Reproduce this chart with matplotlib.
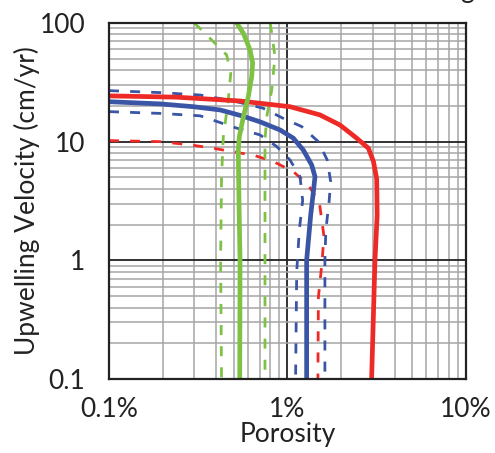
import matplotlib.pyplot as plt
from matplotlib.ticker import LogLocator, FixedLocator, NullFormatter

plt.rcParams['font.family'] = ['Lato', 'DejaVu Sans']

RED = '#ED2A26'
BLUE = '#3A55A5'
GREEN = '#7DC242'

# porosity in percent, upwelling velocity in cm/yr
red_x = [0.1, 0.239, 0.542, 1.033, 1.52, 1.97, 2.44, 2.84, 3.03, 3.16, 3.18, 3.09, 2.96]
red_y = [24.3, 23.7, 22.0, 19.7, 16.8, 13.8, 10.7, 8.8, 6.8, 4.85, 2.41, 1.0, 0.1]

red_dash_x = [0.1, 0.193, 0.284, 0.384, 0.497, 0.643, 0.833, 1.078, 1.31, 1.51, 1.60, 1.56, 1.49, 1.48]
red_dash_y = [10.2, 10.0, 9.4, 8.8, 8.2, 7.7, 6.8, 5.59, 4.3, 3.03, 1.6, 0.95, 0.49, 0.1]

blue_x = [0.1, 0.193, 0.297, 0.419, 0.554, 0.701, 0.908, 1.078, 1.226, 1.366, 1.426, 1.395, 1.349, 1.28, 1.28]
blue_y = [21.7, 20.8, 19.7, 18.5, 16.5, 14.7, 12.55, 10.7, 8.5, 6.36, 5.07, 3.74, 2.41, 1.0, 0.1]

blue_hi_x = [0.1, 0.193, 0.324, 0.5, 0.732, 0.947, 1.2, 1.488, 1.67, 1.745, 1.71, 1.64, 1.62, 1.62]
blue_hi_y = [26.9, 25.9, 24.7, 22.0, 19.1, 15.7, 13.4, 10.0, 7.0, 4.6, 3.12, 1.8, 1.0, 0.1]

blue_lo_x = [0.1, 0.193, 0.324, 0.519, 0.701, 0.87, 1.033, 1.175, 1.216, 1.165, 1.126, 1.11]
blue_lo_y = [17.9, 17.3, 16.5, 13.0, 11.4, 9.1, 7.0, 5.07, 3.2, 1.8, 0.8, 0.1]

green_x = [0.519, 0.566, 0.617, 0.638, 0.63, 0.603, 0.566, 0.537, 0.53, 0.535, 0.542, 0.54]
green_y = [100, 81.9, 59.2, 45.8, 35.3, 23.9, 16.2, 11.0, 8.5, 3.0, 1.0, 0.1]

green_lo_x = [0.30, 0.316, 0.376, 0.456, 0.481, 0.466, 0.437, 0.427, 0.422, 0.427]
green_lo_y = [100, 93.1, 71.9, 53.8, 37.7, 22.4, 11.0, 5.0, 1.0, 0.1]

green_hi_x = [0.80, 0.816, 0.851, 0.816, 0.765, 0.748, 0.748]
green_hi_y = [100, 81.9, 52, 27.3, 16.2, 10.3, 0.1]

x_ticks = [0.1, 1, 10]
x_labels = ['0.1%', '1%', '10%']
y_ticks = [0.1, 1, 10, 100]
y_labels = ['0.1', '1', '10', '100']

fig = plt.figure(figsize=(4.95, 4.53), dpi=100)
ax = fig.add_axes([0.2202, 0.1634, 0.7212, 0.7859])
ax.set_xscale('log')
ax.set_yscale('log')
ax.set_xlim(0.1, 10)
ax.set_ylim(0.1, 100)

# grid: grey minor lines, black decade lines
ax.xaxis.set_minor_locator(LogLocator(base=10, subs=range(2, 10)))
ax.yaxis.set_minor_locator(LogLocator(base=10, subs=range(2, 10)))
ax.xaxis.set_minor_formatter(NullFormatter())
ax.yaxis.set_minor_formatter(NullFormatter())
ax.grid(which='minor', color='#A6A6A6', lw=1.1, zorder=0)
ax.grid(which='major', color='#222222', lw=1.3, zorder=0)
ax.set_axisbelow(True)

dash = dict(lw=2.0, dashes=(3.6, 4.0), dash_joinstyle='round')
ax.plot(red_dash_x, red_dash_y, color=RED, **dash)
ax.plot(blue_hi_x, blue_hi_y, color=BLUE, **dash)
ax.plot(blue_lo_x, blue_lo_y, color=BLUE, **dash)
ax.plot(green_lo_x, green_lo_y, color=GREEN, **dash)
ax.plot(green_hi_x, green_hi_y, color=GREEN, **dash)

solid = dict(lw=3.4, solid_joinstyle='round')
ax.plot(blue_x, blue_y, color=BLUE, **solid)
ax.plot(red_x, red_y, color=RED, **solid)
ax.plot(green_x, green_y, color=GREEN, **solid)

ax.xaxis.set_major_locator(FixedLocator(x_ticks))
ax.set_xticklabels(x_labels)
ax.yaxis.set_major_locator(FixedLocator(y_ticks))
ax.set_yticklabels(y_labels)
ax.tick_params(which='both', length=0, labelsize=19, colors='#222222')
ax.tick_params(axis='x', pad=13)
ax.tick_params(axis='y', pad=17)

for s in ax.spines.values():
    s.set_color('#222222')
    s.set_linewidth(1.6)

ax.set_xlabel('Porosity', fontsize=19, color='#222222', labelpad=0)
ax.set_ylabel('Upwelling Velocity (cm/yr)', fontsize=19, color='#222222', labelpad=0)

# cut-off heading above the plot
fig.text(0.944, 1.004, 'g', fontsize=19, color='#222222', ha='center', va='baseline')

fig.savefig('out.png', dpi=100)
